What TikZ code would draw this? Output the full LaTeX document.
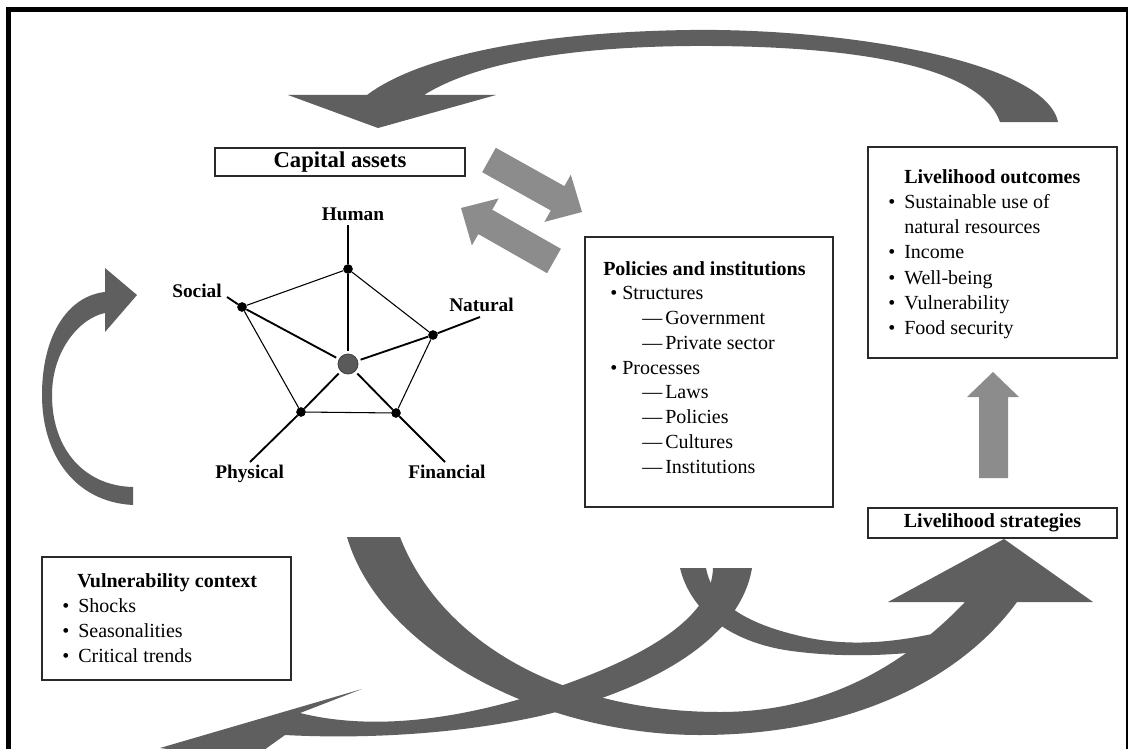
\documentclass[tikz,border=0pt]{standalone}
\usepackage{fontspec}
\setmainfont{Liberation Serif}
\begin{document}
\begin{tikzpicture}[x=0.75pt,y=-0.75pt,
  darkarrow/.style={fill=arrowdark},
  lightarrow/.style={fill=arrowlight},
  boxst/.style={draw=boxline,line width=1.1pt,fill=white,inner sep=0pt},
  txt/.style={inner sep=0pt,anchor=base west,font=\fontsize{15}{18}\selectfont},
  btxt/.style={txt,font=\fontsize{15}{18}\selectfont\bfseries},
  lab/.style={inner sep=0pt,anchor=base west,font=\fontsize{14.5}{17}\selectfont\bfseries},
  pdot/.style={circle,fill=black,inner sep=0pt,minimum size=7pt},
  spoke/.style={line width=1.4pt},
  pedge/.style={line width=0.8pt}]
\definecolor{arrowdark}{HTML}{5F5F5F}
\definecolor{arrowlight}{HTML}{8C8C8C}
\definecolor{boxline}{HTML}{2A2A2A}
\definecolor{ctrgray}{HTML}{5A5A5A}
\useasboundingbox (0,0) rectangle (1128,749);
\clip (0,0) rectangle (1128,749);
\fill[white] (0,0) rectangle (1128,749);
% frame
\draw[line width=3.4pt] (8.5,770) -- (8.5,9.5) -- (1128,9.5) -- (1128,770);

% top curved arrow
\fill[darkarrow] (1058,122) .. controls (1045,60) and (840,28) .. (690,30)
  .. controls (540,32) and (420,55) .. (367,95) -- (288,95) -- (378,128) -- (496,95) -- (424,95)
  .. controls (480,60) and (580,47) .. (690,46) .. controls (850,45) and (980,65) .. (1000,122) -- cycle;

% left curved arrow
\fill[darkarrow] (133,505) .. controls (75,502) and (42,455) .. (42,395)
  .. controls (42,335) and (68,296) .. (105,292) -- (105,268) -- (137,295) -- (105,332) -- (105,313)
  .. controls (80,318) and (52,350) .. (52,395) .. controls (52,450) and (85,486) .. (133,487) -- cycle;

% bottom big arrow to livelihood strategies
\fill[darkarrow] (347,537) .. controls (380,650) and (540,735) .. (700,735)
  .. controls (850,735) and (960,680) .. (1017,602) -- (1093,602) -- (1004,539) -- (888,602) -- (965,602)
  .. controls (900,670) and (820,712) .. (720,712) .. controls (560,712) and (440,640) .. (400,537) -- cycle;

% arrow going to the left (bottom-left head)
\fill[darkarrow] (713,568) .. controls (712,620) and (640,660) .. (540,693)
  .. controls (440,725) and (360,728) .. (300,713) -- (362,689) -- (160,748) -- (250,760) -- (285,735)
  .. controls (340,738) and (440,738) .. (540,716) .. controls (650,690) and (740,640) .. (752,568) -- cycle;

% thin strand merging into big arrow
\fill[darkarrow] (680,568) .. controls (690,610) and (730,645) .. (800,652)
  .. controls (850,658) and (905,655) .. (948,648) -- (950,630)
  .. controls (900,642) and (850,648) .. (800,636) .. controls (740,622) and (712,600) .. (706,568) -- cycle;

% light gray straight arrows
\fill[lightarrow] (482.2,172.2) -- (495.8,147.8) -- (564.4,186.1) -- (570.8,174.7) -- (582,212) -- (544.4,221.9) -- (550.8,210.5) -- cycle;
\fill[lightarrow] (461,208) -- (498.7,198.4) -- (492.2,209.7) -- (560.9,248.8) -- (547.1,273.2) -- (478.4,234.1) -- (471.9,245.4) -- cycle;
\fill[lightarrow] (979,478) -- (979,397) -- (967,397) -- (993,372) -- (1019,397) -- (1008,397) -- (1008,478) -- cycle;

% boxes
\node[boxst,minimum width=187.5pt,minimum height=21pt,font=\fontsize{17}{20}\selectfont\bfseries] (cap) at (340,162) {Capital assets};
\node[boxst,minimum width=186.75pt,minimum height=22.5pt,font=\fontsize{15}{18}\selectfont\bfseries] (strat) at (992.5,523) {Livelihood strategies};
\node[boxst,minimum width=186.75pt,minimum height=158.25pt] (outc) at (992.5,252.5) {};
\node[boxst,minimum width=186pt,minimum height=202.5pt] (pol) at (709,372) {};
\node[boxst,minimum width=186.75pt,minimum height=92.25pt] (vul) at (166.5,618.5) {};

% livelihood outcomes text
\node[btxt] (o0) at (904,183) {Livelihood outcomes};
\node[txt] (ob1) at (888,208.3) {•};
\node[txt] (o1) at (904,208.3) {Sustainable use of};
\node[txt] (o2) at (904,233.6) {natural resources};
\node[txt] (ob3) at (888,258.9) {•};
\node[txt] (o3) at (904,258.9) {Income};
\node[txt] (ob4) at (888,284.2) {•};
\node[txt] (o4) at (904,284.2) {Well-being};
\node[txt] (ob5) at (888,309.5) {•};
\node[txt] (o5) at (904,309.5) {Vulnerability};
\node[txt] (ob6) at (888,334.8) {•};
\node[txt] (o6) at (904,334.8) {Food security};

% policies text
\node[btxt] (p0) at (603,275) {Policies and institutions};
\node[txt] (pb1) at (610,299.75) {•};
\node[txt] (p1) at (622,299.75) {Structures};
\node[txt] (pd2) at (642,324.5) {—};
\node[txt] (p2) at (665,324.5) {Government};
\node[txt] (pd3) at (642,349.25) {—};
\node[txt] (p3) at (665,349.25) {Private sector};
\node[txt] (pb4) at (610,374) {•};
\node[txt] (p4) at (622,374) {Processes};
\node[txt] (pd5) at (642,398.75) {—};
\node[txt] (p5) at (665,398.75) {Laws};
\node[txt] (pd6) at (642,423.5) {—};
\node[txt] (p6) at (665,423.5) {Policies};
\node[txt] (pd7) at (642,448.25) {—};
\node[txt] (p7) at (665,448.25) {Cultures};
\node[txt] (pd8) at (642,473) {—};
\node[txt] (p8) at (665,473) {Institutions};

% vulnerability text
\node[btxt] (v0) at (77,587) {Vulnerability context};
\node[txt] (vb1) at (62,612) {•};
\node[txt] (v1) at (78,612) {Shocks};
\node[txt] (vb2) at (62,637) {•};
\node[txt] (v2) at (78,637) {Seasonalities};
\node[txt] (vb3) at (62,662) {•};
\node[txt] (v3) at (78,662) {Critical trends};

% pentagon
\node[circle,fill=ctrgray,draw=black!75,line width=0.6pt,minimum size=15pt,inner sep=0pt,outer sep=2.5pt] (ctr) at (348,364) {};
\node[pdot] (hum) at (348,269) {};
\node[pdot] (nat) at (433,335) {};
\node[pdot] (fin) at (396,413) {};
\node[pdot] (phy) at (301,412) {};
\node[pdot] (soc) at (242,307) {};
\coordinate (hume) at (348,225);
\coordinate (soce) at (227,297);
\coordinate (nate) at (480,317);
\coordinate (fine) at (445,462);
\coordinate (phye) at (250,462);
\draw[pedge] (hum) -- (nat) -- (fin) -- (phy) -- (soc) -- (hum);
\foreach \n in {hum,nat,fin,phy,soc}{
  \draw[spoke] (ctr) -- (\n);
  \draw[spoke] (\n) -- (\n e);
}
\node[pdot] at (hum) {};
\node[pdot] at (nat) {};
\node[pdot] at (fin) {};
\node[pdot] at (phy) {};
\node[pdot] at (soc) {};
\node[lab,anchor=base] (lhum) at (353,220) {Human};
\node[lab,anchor=base east] (lsoc) at (222,297) {Social};
\node[lab] (lnat) at (449,311) {Natural};
\node[lab] (lfin) at (408,478) {Financial};
\node[lab] (lphy) at (215,478) {Physical};
\end{tikzpicture}
\end{document}
